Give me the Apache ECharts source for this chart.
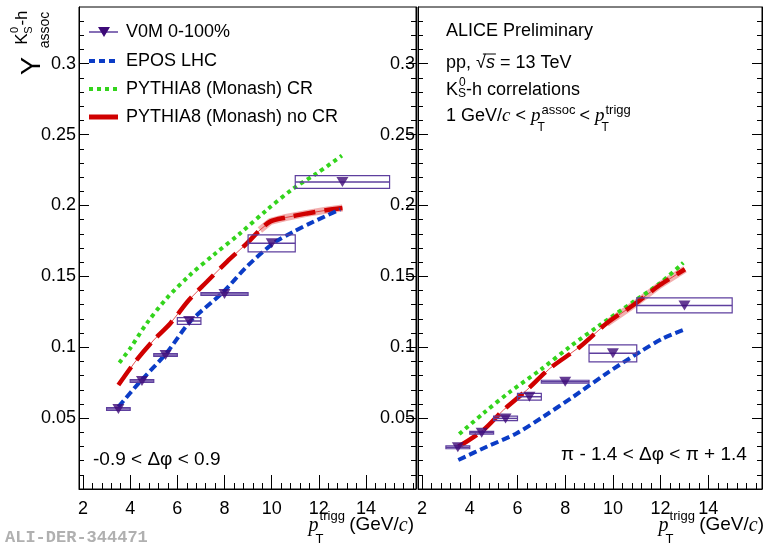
<!DOCTYPE html>
<html>
<head>
<meta charset="utf-8">
<script src="https://cdn.jsdelivr.net/npm/echarts@6/dist/echarts.min.js"></script>
<style>
  html, body { margin: 0; padding: 0; background: #fff; }
  #chart { width: 765px; height: 546px; }
</style>
</head>
<body>
<div id="chart"></div>
<script>
// bins of the trigger pT (GeV/c)
const binLow = [3, 4, 5, 6, 7, 9, 11]
const binHigh = [4, 5, 6, 7, 9, 11, 15]
const binCenter = [3.5, 4.5, 5.5, 6.5, 8, 10, 13]

// V0M 0-100% data, near side and away side
const nearYield = [0.0565, 0.0762, 0.0945, 0.1185, 0.1375, 0.1733, 0.2165]
const nearSys = [0.001, 0.001, 0.001, 0.0024, 0.001, 0.006, 0.0045]
const awayYield = [0.0294, 0.0397, 0.0498, 0.0651, 0.0757, 0.0957, 0.1295]
const awaySys = [0.001, 0.001, 0.0016, 0.0024, 0.001, 0.006, 0.0053]

// models, near side
const nearEposX = [3.5, 4.42, 5.55, 6.54, 7.95, 8.94, 10.07, 10.92, 11.77, 12.9]
const nearEposY = [0.058, 0.0757, 0.0961, 0.118, 0.139, 0.1568, 0.1733, 0.1815, 0.1885, 0.1972]
const nearCrX = [3.54, 4.0, 4.7, 5.55, 6.54, 7.53, 8.66, 9.79, 10.92, 11.91, 12.98]
const nearCrY = [0.0891, 0.0992, 0.1168, 0.1345, 0.151, 0.165, 0.1803, 0.1968, 0.212, 0.2226, 0.2352]
const nearNoCrX = [3.5, 4.2, 5.0, 5.7, 6.5, 7.25, 8.1, 8.95, 9.5, 9.95, 10.6, 11.5, 12.3, 13.0]
const nearNoCrY = [0.0733, 0.0895, 0.1051, 0.1168, 0.1335, 0.1462, 0.1603, 0.1733, 0.1827, 0.1888, 0.1915, 0.1944, 0.1966, 0.1982]

// models, away side
const awayEposX = [3.52, 4.71, 5.97, 7.08, 8.34, 9.74, 11.14, 12.11, 13.02]
const awayEposY = [0.0205, 0.0298, 0.0393, 0.051, 0.0651, 0.0816, 0.0968, 0.1063, 0.1126]
const awayCrX = [3.56, 4.57, 5.69, 6.95, 8.2, 9.46, 10.86, 11.97, 12.95]
const awayCrY = [0.0388, 0.0534, 0.0686, 0.0839, 0.1004, 0.1157, 0.1321, 0.1451, 0.1596]
const awayNoCrX = [3.52, 4.57, 5.41, 6.39, 7.36, 8.62, 9.74, 10.86, 11.97, 13.02]
const awayNoCrY = [0.0298, 0.0416, 0.0557, 0.0698, 0.0851, 0.1004, 0.1169, 0.1298, 0.1439, 0.155]

// axis ticks
const xMajor = [2, 4, 6, 8, 10, 12, 14]
const yMajor = [0.05, 0.1, 0.15, 0.2, 0.25, 0.3]

const xMinor = []
for (let v = 2; v < 16.3; v += 0.4) xMinor.push(+v.toFixed(2))
const yMinor = []
for (let v = 0.01; v < 0.34; v += 0.01) yMinor.push(+v.toFixed(2))

const FONT = 'Liberation Sans'
const SERIF = 'Liberation Serif'
const markColor = '#3d0a78'
const boxColor = '#5e3f9e'
const eposColor = '#0b3cc6'
const crColor = '#33d41c'
const noCrColor = '#d00000'

const xMin = 1.83
const yMin = 0
const yMax = 0.34

function zip(xs, ys) {
  return xs.map((x, i) => [x, ys[i]])
}

function xAxes(grid, max) {
  return [
    {
      type: 'value', gridIndex: grid, position: 'bottom', min: xMin, max: max,
      axisLine: { show: true, onZero: false, lineStyle: { color: '#000', width: 1 } },
      axisTick: { inside: true, length: 14, customValues: xMajor, lineStyle: { color: '#000' } },
      axisLabel: { customValues: xMajor, color: '#000', fontSize: 18, fontFamily: FONT, margin: 11 },
      splitLine: { show: false }
    },
    {
      type: 'value', gridIndex: grid, position: 'bottom', min: xMin, max: max,
      axisLine: { show: false },
      axisTick: { inside: true, length: 6, customValues: xMinor, lineStyle: { color: '#000' } },
      axisLabel: { show: false },
      splitLine: { show: false }
    }
  ]
}

function yAxes(grid) {
  const axes = []
  ;['left', 'right'].forEach(pos => {
    axes.push({
      type: 'value', gridIndex: grid, position: pos, min: yMin, max: yMax,
      axisLine: { show: true, onZero: false, lineStyle: { color: '#000', width: 1 } },
      axisTick: { inside: true, length: 10, customValues: yMajor, lineStyle: { color: '#000' } },
      axisLabel: {
        show: pos === 'left', customValues: yMajor, color: '#000', fontSize: 18,
        fontFamily: FONT, margin: 3
      },
      splitLine: { show: false }
    })
    axes.push({
      type: 'value', gridIndex: grid, position: pos, min: yMin, max: yMax,
      axisLine: { show: false },
      axisTick: { inside: true, length: 5, customValues: yMinor, lineStyle: { color: '#000' } },
      axisLabel: { show: false },
      splitLine: { show: false }
    })
  })
  return axes
}

function curve(xi, yi, xs, ys, color, width, dash) {
  return {
    type: 'line', xAxisIndex: xi, yAxisIndex: yi, data: zip(xs, ys),
    showSymbol: false, smooth: 0.3, silent: true, z: 3,
    lineStyle: { color: color, width: width, type: dash, cap: 'butt' }
  }
}

// thin line + light band + thick dashes for the no-CR curve
function noCrCurves(xi, yi, xs, ys) {
  const band = zip(xs, ys).filter(p => p[0] >= 9.3)
  return [
    {
      type: 'line', xAxisIndex: xi, yAxisIndex: yi, data: band, showSymbol: false,
      silent: true, z: 2, lineStyle: { color: 'rgba(232,110,110,0.55)', width: 7 }
    },
    {
      type: 'line', xAxisIndex: xi, yAxisIndex: yi, data: zip(xs, ys), showSymbol: false,
      silent: true, z: 2, lineStyle: { color: 'rgba(220,40,40,0.8)', width: 1 }
    },
    curve(xi, yi, xs, ys, noCrColor, 4.5, [22, 9])
  ]
}

function boxes(xi, yi, vals, sys) {
  return {
    type: 'custom', xAxisIndex: xi, yAxisIndex: yi, z: 4, silent: true,
    data: vals.map((v, i) => [binLow[i], binHigh[i], v, sys[i]]),
    encode: { x: [0, 1], y: 2 },
    renderItem(params, api) {
      const lo = api.value(0)
      const hi = api.value(1)
      const v = api.value(2)
      const e = api.value(3)
      const p0 = api.coord([lo, v + e])
      const p1 = api.coord([hi, v - e])
      const l0 = api.coord([lo, v])
      const l1 = api.coord([hi, v])
      return {
        type: 'group',
        children: [
          {
            type: 'rect',
            shape: { x: p0[0], y: p0[1], width: p1[0] - p0[0], height: p1[1] - p0[1] },
            style: { fill: 'none', stroke: boxColor, lineWidth: 1.2 }
          },
          {
            type: 'line',
            shape: { x1: l0[0], y1: l0[1], x2: l1[0], y2: l1[1] },
            style: { stroke: boxColor, lineWidth: 1.5 }
          }
        ]
      }
    }
  }
}

function markers(xi, yi, vals) {
  return {
    type: 'scatter', xAxisIndex: xi, yAxisIndex: yi, z: 5, silent: true,
    data: zip(binCenter, vals),
    symbol: 'triangle', symbolRotate: 180, symbolSize: [12, 10],
    itemStyle: { color: markColor }
  }
}

function fontOf(o) {
  return (o.italic ? 'italic ' : '') + (o.bold ? 'bold ' : '') + o.size + 'px ' + (o.family || FONT)
}

function txt(x, y, text, size, opts) {
  const o = Object.assign({ size: size }, opts || {})
  return {
    type: 'text', x: x, y: y, rotation: o.rot || 0, silent: true, z: 10,
    style: {
      text: text, fill: o.color || '#000', font: fontOf(o),
      textAlign: o.align || 'left', textVerticalAlign: 'middle'
    }
  }
}

// lay out a line of text pieces; an array entry is a stacked sup/sub pair
const measureCtx = document.createElement('canvas').getContext('2d')
function textWidth(p) {
  measureCtx.font = fontOf(p)
  return measureCtx.measureText(p.t).width
}
function pieceWidth(p) {
  return Array.isArray(p) ? Math.max.apply(null, p.map(textWidth)) : textWidth(p)
}
function textLine(x, y, parts, alignRight) {
  let cx = alignRight ? x - parts.reduce((s, p) => s + pieceWidth(p), 0) : x
  const out = []
  parts.forEach(p => {
    const list = Array.isArray(p) ? p : [p]
    list.forEach(q => {
      out.push(txt(cx + (q.dx || 0), y + (q.dy || 0), q.t, q.size, q))
      if (q.bar) {
        const w = textWidth(q)
        out.push({
          type: 'line', silent: true, z: 10,
          shape: { x1: cx - 3, y1: y - 9, x2: cx + w + 1, y2: y - 9 },
          style: { stroke: '#000', lineWidth: 1 }
        })
      }
    })
    cx += pieceWidth(p)
  })
  return out
}

const S = 18
const legendItems = [
  { type: 'line', shape: { x1: 89, y1: 32, x2: 118, y2: 32 }, style: { stroke: boxColor, lineWidth: 1.5 } },
  { type: 'polygon', shape: { points: [[98, 27], [110, 27], [104, 37]] }, style: { fill: markColor } },
  { type: 'line', shape: { x1: 89, y1: 61, x2: 118, y2: 61 }, style: { stroke: eposColor, lineWidth: 4, lineDash: [6, 4] } },
  { type: 'line', shape: { x1: 89, y1: 89, x2: 118, y2: 89 }, style: { stroke: crColor, lineWidth: 4, lineDash: [4, 4] } },
  { type: 'line', shape: { x1: 89, y1: 117, x2: 118, y2: 117 }, style: { stroke: noCrColor, lineWidth: 5 } },
  txt(126, 32, 'V0M 0-100%', S),
  txt(126, 61, 'EPOS LHC', S),
  txt(126, 89, 'PYTHIA8 (Monash) CR', S),
  txt(126, 117, 'PYTHIA8 (Monash) no CR', S)
]

const infoTexts = [].concat(
  [txt(446, 31, 'ALICE Preliminary', S)],
  textLine(446, 63, [
    { t: 'pp, √', size: S },
    { t: 's', size: S, italic: true, bar: true },
    { t: ' = 13 TeV', size: S }
  ]),
  textLine(446, 90, [
    { t: 'K', size: S },
    [{ t: '0', size: 12, dy: -7, dx: 1 }, { t: 'S', size: 12, dy: 4, dx: 0 }],
    { t: '-h correlations', size: S }
  ]),
  textLine(446, 116, [
    { t: '1 GeV/', size: S },
    { t: 'c', size: 19, italic: true, family: SERIF },
    { t: ' < ', size: S },
    { t: 'p', size: 19, italic: true, family: SERIF },
    [{ t: 'assoc', size: 13, dy: -6, dx: 1 }, { t: 'T', size: 12, dy: 12, dx: -3 }],
    { t: ' < ', size: S },
    { t: 'p', size: 19, italic: true, family: SERIF },
    [{ t: 'trigg', size: 13, dy: -6, dx: 1 }, { t: 'T', size: 12, dy: 12, dx: -3 }]
  ]),
  [txt(93, 460, '-0.9 < Δφ < 0.9', 19), txt(561, 455, 'π - 1.4 < Δφ < π + 1.4', 19)]
)

function xTitle(xRight) {
  return textLine(xRight, 525, [
    { t: 'p', size: 20, italic: true, family: SERIF, dy: 1 },
    [{ t: 'trigg', size: 13, dy: -9, dx: 1 }, { t: 'T', size: 13, dy: 14, dx: -3 }],
    { t: ' (GeV/', size: 19 },
    { t: 'c', size: 20, italic: true, family: SERIF, dy: 1 },
    { t: ')', size: 19 }
  ], true)
}

const yTitle = [
  txt(33, 66, 'Y', 27, { rot: Math.PI / 2, align: 'center' }),
  txt(22, 39, 'K', 17, { rot: Math.PI / 2, align: 'center' }),
  txt(15, 30, '0', 11, { rot: Math.PI / 2, align: 'center' }),
  txt(29, 30, 'S', 11, { rot: Math.PI / 2, align: 'center' }),
  txt(22, 18, '-h', 17, { rot: Math.PI / 2, align: 'center' }),
  txt(45, 30, 'assoc', 14, { rot: Math.PI / 2, align: 'center' })
]

const chart = echarts.init(document.getElementById('chart'), null, { renderer: 'canvas' })
chart.setOption({
  animation: false,
  backgroundColor: '#fff',
  textStyle: { fontFamily: FONT },
  grid: [
    { left: 79, top: 7, width: 337, height: 482, show: true, borderColor: '#000', borderWidth: 1, backgroundColor: 'transparent' },
    { left: 418, top: 7, width: 344, height: 482, show: true, borderColor: '#000', borderWidth: 1, backgroundColor: 'transparent' }
  ],
  xAxis: [].concat(xAxes(0, 16.12), xAxes(1, 16.25)),
  yAxis: [].concat(yAxes(0), yAxes(1)),
  series: [].concat(
    curve(0, 0, nearCrX, nearCrY, crColor, 4, [4, 4]),
    noCrCurves(0, 0, nearNoCrX, nearNoCrY),
    curve(0, 0, nearEposX, nearEposY, eposColor, 4, [8, 4]),
    boxes(0, 0, nearYield, nearSys),
    markers(0, 0, nearYield),
    curve(2, 4, awayCrX, awayCrY, crColor, 4, [4, 4]),
    noCrCurves(2, 4, awayNoCrX, awayNoCrY),
    curve(2, 4, awayEposX, awayEposY, eposColor, 4, [8, 4]),
    boxes(2, 4, awayYield, awaySys),
    markers(2, 4, awayYield)
  ),
  graphic: [].concat(
    legendItems,
    infoTexts,
    xTitle(414),
    xTitle(764),
    yTitle,
    [txt(5, 538, 'ALI-DER-344471', 17, { bold: true, family: 'Liberation Mono', color: '#b0b0b0' })]
  )
})
</script>
</body>
</html>
